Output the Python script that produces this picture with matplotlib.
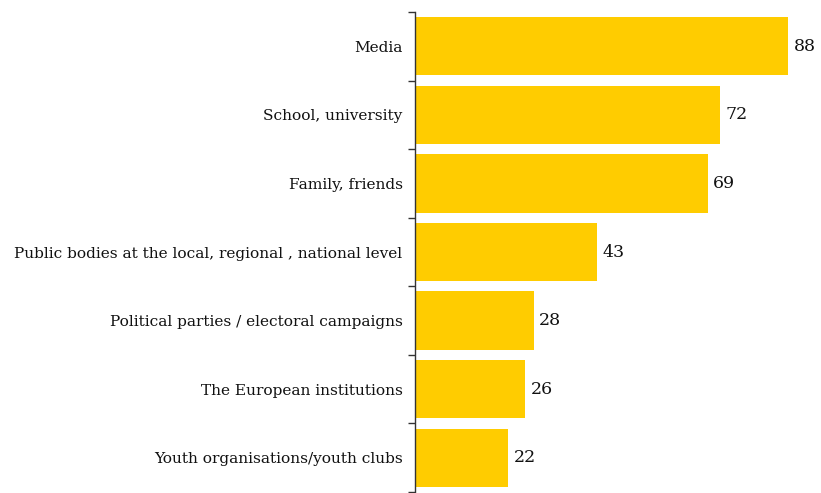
import matplotlib
matplotlib.use("Agg")
import matplotlib.pyplot as plt
import numpy as np

categories = ["Media", "School, university", "Family, friends",
              "Public bodies at the local, regional , national level",
              "Political parties / electoral campaigns",
              "The European institutions", "Youth organisations/youth clubs"]
values = [88, 72, 69, 43, 28, 26, 22]

W, H = 821, 493
fig = plt.figure(figsize=(W/100, H/100), dpi=100)
ax = fig.add_axes([415/W, 1 - 492/H, (818-415)/W, (492-12)/H])

y = np.arange(len(categories))
ax.barh(y, values, height=0.85, color="#FFCC00", zorder=2)
ax.set_ylim(len(categories) - 0.5, -0.5)
ax.set_xlim(0, 95)

for s in ["top", "right", "bottom"]:
    ax.spines[s].set_visible(False)
ax.spines["left"].set_color("#333333")
ax.spines["left"].set_linewidth(1.0)
ax.set_xticks([])
ax.set_yticks(y)
ax.set_yticklabels(categories, fontsize=11.1, family="DejaVu Serif", color="#111111")
ax.tick_params(axis="y", which="major", length=0, pad=9)
ax.set_yticks(np.arange(-0.5, len(categories), 1), minor=True)
ax.tick_params(axis="y", which="minor", length=5, width=1, color="#333333")

for yi, v in zip(y, values):
    ax.text(v + 1.2, yi, str(v), va="center", ha="left", fontsize=12.5,
            family="DejaVu Serif", color="#111111")

fig.savefig("out.png", dpi=100)
